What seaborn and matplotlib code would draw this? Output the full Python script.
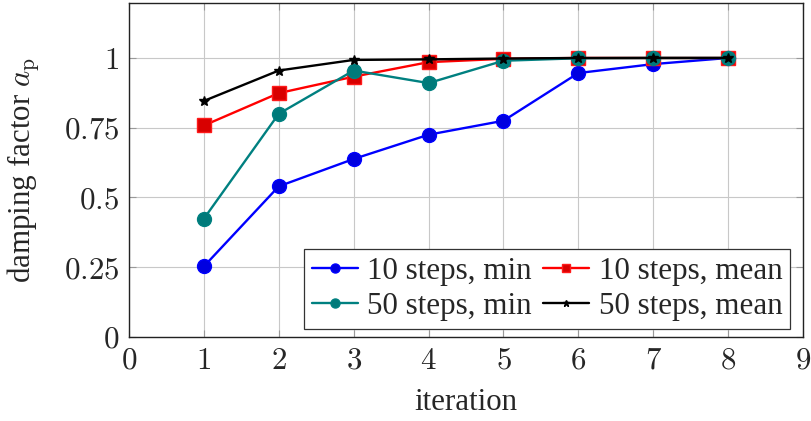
import matplotlib
matplotlib.use("Agg")
import matplotlib.pyplot as plt
import seaborn as sns
import pandas as pd

# Damping factor per iteration for the four configurations
iterations = [1, 2, 3, 4, 5, 6, 7, 8]
steps10_min = [0.253, 0.540, 0.638, 0.725, 0.775, 0.946, 0.978, 1.0]
steps10_mean = [0.758, 0.874, 0.933, 0.985, 0.997, 1.0, 1.0, 1.0]
steps50_min = [0.424, 0.800, 0.955, 0.910, 0.990, 0.999, 1.0, 1.0]
steps50_mean = [0.846, 0.955, 0.993, 0.995, 0.998, 1.0, 1.0, 1.0]

series_labels = ["10 steps, min", "10 steps, mean", "50 steps, min", "50 steps, mean"]
x_ticks = [0, 1, 2, 3, 4, 5, 6, 7, 8, 9]
y_ticks = [0, 0.25, 0.5, 0.75, 1]
y_tick_labels = ["0", "0.25", "0.5", "0.75", "1"]

sns.set_theme(style="whitegrid")
plt.rcParams["font.family"] = ["Liberation Serif", "DejaVu Serif"]
plt.rcParams["mathtext.fontset"] = "cm"

FS = 22.3

fig = plt.figure(figsize=(8.11, 4.21), dpi=100)
ax = fig.add_axes([129 / 811, 1 - 337 / 421, (803 - 129) / 811, (337 - 3) / 421])

styles = [
    (steps10_min, dict(color="#0000ff", marker="o", markersize=10, markerfacecolor="#0000e0",
                       markeredgecolor="#0000ff")),
    (steps10_mean, dict(color="#ff0000", marker="s", markersize=9.5, markerfacecolor="#d80000",
                        markeredgecolor="#ff1a1a")),
    (steps50_min, dict(color="#008080", marker="o", markersize=10, markerfacecolor="#007a7a",
                       markeredgecolor="#008080")),
    (steps50_mean, dict(color="black", marker="*", markersize=7.5, markerfacecolor="black",
                        markeredgecolor="black")),
]

for (vals, st), label in zip(styles, series_labels):
    df = pd.DataFrame({"iteration": iterations, "value": vals})
    sns.lineplot(data=df, x="iteration", y="value", ax=ax, label=label,
                 linewidth=1.7, markeredgewidth=1.0, **st)

ax.set_xlim(0, 9)
ax.set_ylim(0, 1.197)
ax.set_xticks(x_ticks)
ax.set_xticklabels([f"${t}$" for t in x_ticks])
ax.set_yticks(y_ticks)
ax.set_yticklabels([f"${t}$" for t in y_tick_labels])

ax.grid(True, color="#c8c8c8", linewidth=0.8)
ax.set_facecolor("white")
for sp in ax.spines.values():
    sp.set_color("#222222")
    sp.set_linewidth(1.0)

ax.tick_params(axis="both", which="major", direction="in", length=5, width=0.8,
               color="#999999", labelsize=FS, pad=7,
               top=True, right=True, bottom=True, left=True)

ax.set_xlabel("iteration", fontsize=FS, labelpad=9)
ax.set_ylabel(r"damping factor $a_\mathrm{p}$", fontsize=FS, labelpad=16)

# legend filled row by row: (10 min, 10 mean) then (50 min, 50 mean)
handles, labels = ax.get_legend_handles_labels()
order = [0, 2, 1, 3]
leg = ax.legend([handles[i] for i in order], [labels[i] for i in order],
                loc="lower right", bbox_to_anchor=(0.981, 0.025), ncol=2,
                fontsize=FS, frameon=True, fancybox=False, framealpha=1,
                edgecolor="#333333", handlelength=1.5, handletextpad=0.3,
                columnspacing=0.35, labelspacing=0.2, borderpad=0.25,
                borderaxespad=0, markerscale=0.65)
leg.get_frame().set_linewidth(0.9)

fig.savefig("out.png", dpi=100)
